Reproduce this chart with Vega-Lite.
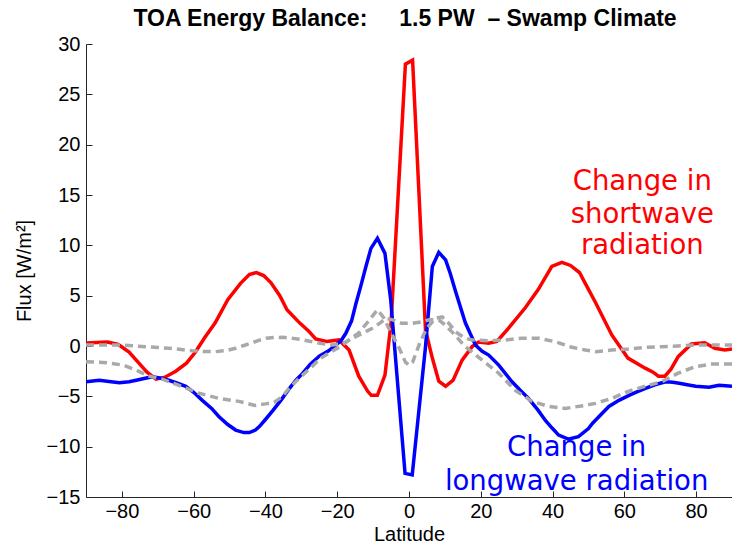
{
  "$schema": "https://vega.github.io/schema/vega-lite/v6.json",
  "width": 646,
  "height": 453,
  "autosize": "none",
  "padding": {"left": 86, "top": 44, "right": 0, "bottom": 50},
  "background": "white",
  "config": {
    "view": {"stroke": null},
    "font": "Liberation Sans",
    "axis": {
      "domainColor": "#262626",
      "tickColor": "#262626",
      "domainWidth": 1,
      "tickWidth": 1,
      "tickSize": -6,
      "grid": false,
      "labelColor": "black",
      "labelFont": "Liberation Sans",
      "labelFontSize": 20,
      "titleFont": "Liberation Sans",
      "titleFontSize": 20,
      "titleFontWeight": "normal",
      "titleColor": "black"
    }
  },
  "title": {
    "text": "TOA Energy Balance:\u00a0\u00a0\u00a0\u00a0 1.5 PW\u00a0 – Swamp Climate",
    "font": "Liberation Sans",
    "fontSize": 23,
    "fontWeight": "bold",
    "color": "black",
    "anchor": "middle",
    "frame": "group",
    "dx": -4,
    "offset": 3
  },
  "datasets": {
    "curves": [
      {"s": "SW", "lat": -90, "v": 0.3}, {"s": "SW", "lat": -87, "v": 0.35}, {"s": "SW", "lat": -84, "v": 0.4}, {"s": "SW", "lat": -81, "v": 0.15},
      {"s": "SW", "lat": -78, "v": -0.6}, {"s": "SW", "lat": -76, "v": -1.4}, {"s": "SW", "lat": -73, "v": -2.6}, {"s": "SW", "lat": -70.5, "v": -3.3},
      {"s": "SW", "lat": -68, "v": -3.1}, {"s": "SW", "lat": -65, "v": -2.5}, {"s": "SW", "lat": -62, "v": -1.7}, {"s": "SW", "lat": -59.5, "v": -0.6},
      {"s": "SW", "lat": -57, "v": 0.8}, {"s": "SW", "lat": -54, "v": 2.3}, {"s": "SW", "lat": -50.5, "v": 4.6}, {"s": "SW", "lat": -47, "v": 6.2},
      {"s": "SW", "lat": -44.5, "v": 7.1}, {"s": "SW", "lat": -42.5, "v": 7.3}, {"s": "SW", "lat": -40.5, "v": 7.0}, {"s": "SW", "lat": -38.5, "v": 6.3},
      {"s": "SW", "lat": -36, "v": 5.0}, {"s": "SW", "lat": -34, "v": 3.6}, {"s": "SW", "lat": -30.5, "v": 2.3}, {"s": "SW", "lat": -28, "v": 1.5},
      {"s": "SW", "lat": -26, "v": 0.7}, {"s": "SW", "lat": -23, "v": 0.45}, {"s": "SW", "lat": -19.5, "v": 0.6}, {"s": "SW", "lat": -16.7, "v": -0.4},
      {"s": "SW", "lat": -14, "v": -3.0}, {"s": "SW", "lat": -11.5, "v": -4.5}, {"s": "SW", "lat": -10.5, "v": -4.9}, {"s": "SW", "lat": -8.8, "v": -4.9},
      {"s": "SW", "lat": -6.7, "v": -2.9}, {"s": "SW", "lat": -5, "v": 2.3}, {"s": "SW", "lat": -1, "v": 28.0}, {"s": "SW", "lat": 1, "v": 28.4},
      {"s": "SW", "lat": 4.6, "v": 1.6}, {"s": "SW", "lat": 6.5, "v": -1.2}, {"s": "SW", "lat": 8.3, "v": -3.5}, {"s": "SW", "lat": 10.2, "v": -4.0},
      {"s": "SW", "lat": 12.3, "v": -3.4}, {"s": "SW", "lat": 14.8, "v": -1.4}, {"s": "SW", "lat": 17.6, "v": -0.06}, {"s": "SW", "lat": 19.4, "v": 0.4},
      {"s": "SW", "lat": 22.2, "v": 0.27}, {"s": "SW", "lat": 24.5, "v": 0.45}, {"s": "SW", "lat": 27.8, "v": 1.8}, {"s": "SW", "lat": 32.4, "v": 3.8},
      {"s": "SW", "lat": 36, "v": 5.6}, {"s": "SW", "lat": 39.8, "v": 7.9}, {"s": "SW", "lat": 42.6, "v": 8.3}, {"s": "SW", "lat": 45, "v": 8.0},
      {"s": "SW", "lat": 47.5, "v": 7.3}, {"s": "SW", "lat": 49, "v": 6.3}, {"s": "SW", "lat": 52, "v": 4.3}, {"s": "SW", "lat": 56.5, "v": 1.1},
      {"s": "SW", "lat": 61, "v": -1.2}, {"s": "SW", "lat": 65.8, "v": -2.2}, {"s": "SW", "lat": 68, "v": -2.6}, {"s": "SW", "lat": 69.5, "v": -3.0},
      {"s": "SW", "lat": 71.3, "v": -3.0}, {"s": "SW", "lat": 73, "v": -2.3}, {"s": "SW", "lat": 75, "v": -1.06}, {"s": "SW", "lat": 78.7, "v": 0.2},
      {"s": "SW", "lat": 82.4, "v": 0.33}, {"s": "SW", "lat": 85.2, "v": -0.23}, {"s": "SW", "lat": 88, "v": -0.4}, {"s": "SW", "lat": 90, "v": -0.3},

      {"s": "LW", "lat": -90, "v": -3.55}, {"s": "LW", "lat": -86.3, "v": -3.4}, {"s": "LW", "lat": -83, "v": -3.55}, {"s": "LW", "lat": -80.7, "v": -3.65},
      {"s": "LW", "lat": -78, "v": -3.55}, {"s": "LW", "lat": -76, "v": -3.4}, {"s": "LW", "lat": -73.5, "v": -3.2}, {"s": "LW", "lat": -71.5, "v": -3.05},
      {"s": "LW", "lat": -69, "v": -3.2}, {"s": "LW", "lat": -66.9, "v": -3.4}, {"s": "LW", "lat": -64.5, "v": -3.7}, {"s": "LW", "lat": -62.2, "v": -4.0},
      {"s": "LW", "lat": -60, "v": -4.6}, {"s": "LW", "lat": -57.6, "v": -5.4}, {"s": "LW", "lat": -55, "v": -6.2}, {"s": "LW", "lat": -53, "v": -7.0},
      {"s": "LW", "lat": -50.5, "v": -7.8}, {"s": "LW", "lat": -48.3, "v": -8.35}, {"s": "LW", "lat": -46, "v": -8.6}, {"s": "LW", "lat": -44.5, "v": -8.6},
      {"s": "LW", "lat": -42.8, "v": -8.35}, {"s": "LW", "lat": -41.7, "v": -8.0}, {"s": "LW", "lat": -40, "v": -7.3}, {"s": "LW", "lat": -37.9, "v": -6.4},
      {"s": "LW", "lat": -35.5, "v": -5.3}, {"s": "LW", "lat": -33.3, "v": -4.2}, {"s": "LW", "lat": -31.5, "v": -3.4}, {"s": "LW", "lat": -29.6, "v": -2.7},
      {"s": "LW", "lat": -27.5, "v": -1.8}, {"s": "LW", "lat": -25, "v": -1.0}, {"s": "LW", "lat": -22.5, "v": -0.5}, {"s": "LW", "lat": -20.4, "v": 0.1},
      {"s": "LW", "lat": -19, "v": 0.5}, {"s": "LW", "lat": -17.6, "v": 1.26}, {"s": "LW", "lat": -16, "v": 2.5}, {"s": "LW", "lat": -14.8, "v": 4.2},
      {"s": "LW", "lat": -13.4, "v": 6.0}, {"s": "LW", "lat": -12, "v": 7.9}, {"s": "LW", "lat": -10.6, "v": 9.7}, {"s": "LW", "lat": -8.8, "v": 10.7},
      {"s": "LW", "lat": -6.7, "v": 9.2}, {"s": "LW", "lat": -5.1, "v": 4.6}, {"s": "LW", "lat": -1.1, "v": -12.65}, {"s": "LW", "lat": 0.9, "v": -12.8},
      {"s": "LW", "lat": 4.6, "v": -0.07}, {"s": "LW", "lat": 6.5, "v": 7.9}, {"s": "LW", "lat": 8.3, "v": 9.3}, {"s": "LW", "lat": 10.2, "v": 8.55},
      {"s": "LW", "lat": 11.5, "v": 7.2}, {"s": "LW", "lat": 13, "v": 5.4}, {"s": "LW", "lat": 15.7, "v": 2.3}, {"s": "LW", "lat": 18.5, "v": 0.1},
      {"s": "LW", "lat": 20.3, "v": -0.5}, {"s": "LW", "lat": 22.2, "v": -0.9}, {"s": "LW", "lat": 25, "v": -1.9}, {"s": "LW", "lat": 28.7, "v": -3.55},
      {"s": "LW", "lat": 31, "v": -4.4}, {"s": "LW", "lat": 33.3, "v": -5.2}, {"s": "LW", "lat": 36, "v": -6.4}, {"s": "LW", "lat": 38, "v": -7.4},
      {"s": "LW", "lat": 40, "v": -8.2}, {"s": "LW", "lat": 41.7, "v": -8.85}, {"s": "LW", "lat": 44.4, "v": -9.25}, {"s": "LW", "lat": 47.2, "v": -9.0},
      {"s": "LW", "lat": 50, "v": -8.2}, {"s": "LW", "lat": 51.1, "v": -7.7}, {"s": "LW", "lat": 53.5, "v": -6.8}, {"s": "LW", "lat": 55.7, "v": -6.0},
      {"s": "LW", "lat": 58.5, "v": -5.4}, {"s": "LW", "lat": 61.3, "v": -4.9}, {"s": "LW", "lat": 63.5, "v": -4.55}, {"s": "LW", "lat": 65.9, "v": -4.2},
      {"s": "LW", "lat": 68.5, "v": -3.85}, {"s": "LW", "lat": 71.5, "v": -3.55}, {"s": "LW", "lat": 73.5, "v": -3.6}, {"s": "LW", "lat": 75.3, "v": -3.7},
      {"s": "LW", "lat": 77.5, "v": -3.85}, {"s": "LW", "lat": 79.9, "v": -4.0}, {"s": "LW", "lat": 83.6, "v": -4.1}, {"s": "LW", "lat": 86.4, "v": -3.9},
      {"s": "LW", "lat": 90, "v": -4.0}
    ],
    "grays": [
      {"s": "A", "lat": -90, "v": 0.1}, {"s": "A", "lat": -85, "v": 0.1}, {"s": "A", "lat": -80.7, "v": 0.1}, {"s": "A", "lat": -77, "v": 0.02},
      {"s": "A", "lat": -73.3, "v": -0.07}, {"s": "A", "lat": -70, "v": -0.15}, {"s": "A", "lat": -66.9, "v": -0.23}, {"s": "A", "lat": -63.5, "v": -0.35},
      {"s": "A", "lat": -60.4, "v": -0.47}, {"s": "A", "lat": -57, "v": -0.55}, {"s": "A", "lat": -53.9, "v": -0.56}, {"s": "A", "lat": -51, "v": -0.45},
      {"s": "A", "lat": -48.3, "v": -0.23}, {"s": "A", "lat": -46, "v": 0.05}, {"s": "A", "lat": -43.7, "v": 0.33}, {"s": "A", "lat": -41.5, "v": 0.6},
      {"s": "A", "lat": -39.8, "v": 0.77}, {"s": "A", "lat": -37.5, "v": 0.85}, {"s": "A", "lat": -35.2, "v": 0.86}, {"s": "A", "lat": -33, "v": 0.8},
      {"s": "A", "lat": -30.6, "v": 0.67}, {"s": "A", "lat": -28, "v": 0.5}, {"s": "A", "lat": -25.9, "v": 0.33}, {"s": "A", "lat": -23.5, "v": 0.2},
      {"s": "A", "lat": -21.3, "v": 0.1}, {"s": "A", "lat": -19, "v": 0.2}, {"s": "A", "lat": -17, "v": 0.5}, {"s": "A", "lat": -14, "v": 1.3},
      {"s": "A", "lat": -11, "v": 2.6}, {"s": "A", "lat": -8.8, "v": 3.6}, {"s": "A", "lat": -7, "v": 2.8}, {"s": "A", "lat": -5, "v": 1.3},
      {"s": "A", "lat": -3, "v": 0.0}, {"s": "A", "lat": -1, "v": -1.6}, {"s": "A", "lat": 0, "v": -1.9}, {"s": "A", "lat": 1, "v": -1.6},
      {"s": "A", "lat": 3, "v": 0.3}, {"s": "A", "lat": 5, "v": 1.8}, {"s": "A", "lat": 7.4, "v": 2.75}, {"s": "A", "lat": 9.2, "v": 2.9},
      {"s": "A", "lat": 11, "v": 2.3}, {"s": "A", "lat": 13, "v": 1.4}, {"s": "A", "lat": 15.5, "v": 0.8}, {"s": "A", "lat": 17.6, "v": 0.6},
      {"s": "A", "lat": 22.2, "v": 0.53}, {"s": "A", "lat": 26.8, "v": 0.6}, {"s": "A", "lat": 31.5, "v": 0.77}, {"s": "A", "lat": 36.1, "v": 0.77},
      {"s": "A", "lat": 40.7, "v": 0.43}, {"s": "A", "lat": 45.4, "v": -0.13}, {"s": "A", "lat": 49.1, "v": -0.4}, {"s": "A", "lat": 52, "v": -0.56},
      {"s": "A", "lat": 56.5, "v": -0.4}, {"s": "A", "lat": 61.1, "v": -0.3}, {"s": "A", "lat": 65.8, "v": -0.13}, {"s": "A", "lat": 70.4, "v": -0.07},
      {"s": "A", "lat": 75, "v": 0}, {"s": "A", "lat": 79.7, "v": 0.1}, {"s": "A", "lat": 84.3, "v": 0.1}, {"s": "A", "lat": 90, "v": 0.1},

      {"s": "B", "lat": -90, "v": -1.56}, {"s": "B", "lat": -84.2, "v": -1.66}, {"s": "B", "lat": -79.6, "v": -1.9}, {"s": "B", "lat": -76, "v": -2.4},
      {"s": "B", "lat": -72.4, "v": -3.0}, {"s": "B", "lat": -68.7, "v": -3.3}, {"s": "B", "lat": -64.1, "v": -3.9}, {"s": "B", "lat": -58.5, "v": -4.7},
      {"s": "B", "lat": -53, "v": -5.2}, {"s": "B", "lat": -47.4, "v": -5.5}, {"s": "B", "lat": -43, "v": -5.9}, {"s": "B", "lat": -40, "v": -5.75},
      {"s": "B", "lat": -37.6, "v": -5.6}, {"s": "B", "lat": -35.2, "v": -5.0}, {"s": "B", "lat": -33.9, "v": -4.4}, {"s": "B", "lat": -30.6, "v": -3.2},
      {"s": "B", "lat": -27.5, "v": -2.2}, {"s": "B", "lat": -24.6, "v": -1.2}, {"s": "B", "lat": -21.3, "v": -0.5}, {"s": "B", "lat": -18.5, "v": 0.1},
      {"s": "B", "lat": -16.7, "v": 0.6}, {"s": "B", "lat": -13, "v": 1.26}, {"s": "B", "lat": -10, "v": 1.8}, {"s": "B", "lat": -8, "v": 2.3},
      {"s": "B", "lat": -6.5, "v": 2.75}, {"s": "B", "lat": -4.5, "v": 2.6}, {"s": "B", "lat": -2, "v": 2.25}, {"s": "B", "lat": 1, "v": 2.25},
      {"s": "B", "lat": 3.5, "v": 2.4}, {"s": "B", "lat": 5.6, "v": 2.6}, {"s": "B", "lat": 8.3, "v": 2.6}, {"s": "B", "lat": 10, "v": 2.1},
      {"s": "B", "lat": 12, "v": 1.4}, {"s": "B", "lat": 14, "v": 0.6}, {"s": "B", "lat": 15.7, "v": -0.07}, {"s": "B", "lat": 20.4, "v": -1.4},
      {"s": "B", "lat": 25, "v": -2.7}, {"s": "B", "lat": 29.6, "v": -4.4}, {"s": "B", "lat": 34.3, "v": -5.5}, {"s": "B", "lat": 38.9, "v": -6.0},
      {"s": "B", "lat": 43.5, "v": -6.2}, {"s": "B", "lat": 49.1, "v": -5.9}, {"s": "B", "lat": 52, "v": -5.7}, {"s": "B", "lat": 56.5, "v": -5.2},
      {"s": "B", "lat": 61.1, "v": -4.5}, {"s": "B", "lat": 65.8, "v": -4.0}, {"s": "B", "lat": 70.4, "v": -3.55}, {"s": "B", "lat": 75, "v": -2.7},
      {"s": "B", "lat": 79.7, "v": -2.06}, {"s": "B", "lat": 84.3, "v": -1.8}, {"s": "B", "lat": 90, "v": -1.8}
    ],
    "labels": [
      {"s": "SW", "lat": 65, "v": 16.3, "t": "Change in"},
      {"s": "SW", "lat": 65, "v": 13.0, "t": "shortwave"},
      {"s": "SW", "lat": 65, "v": 9.9, "t": "radiation"},
      {"s": "LW", "lat": 46.7, "v": -10.1, "t": "Change in"},
      {"s": "LW", "lat": 46.7, "v": -13.5, "t": "longwave radiation"}
    ]
  },
  "layer": [
    {
      "mark": {"type": "rule", "color": "black", "strokeWidth": 1, "strokeDash": [1, 3]},
      "encoding": {"y": {"datum": 0, "type": "quantitative"}}
    },
    {
      "data": {"name": "curves"},
      "mark": {"type": "line", "strokeWidth": 3.5, "clip": true},
      "encoding": {
        "x": {
          "field": "lat", "type": "quantitative",
          "scale": {"domain": [-90, 90], "nice": false, "zero": false},
          "axis": {"values": [-80, -60, -40, -20, 0, 20, 40, 60, 80], "title": "Latitude", "labelPadding": 10, "titlePadding": 3, "labelFontSize": 20, "titleFontSize": 20}
        },
        "y": {
          "field": "v", "type": "quantitative",
          "scale": {"domain": [-15, 30], "nice": false, "zero": false},
          "axis": {"values": [-15, -10, -5, 0, 5, 10, 15, 20, 25, 30], "title": "Flux [W/m²]", "labelPadding": 12, "titlePadding": 12, "labelFontSize": 20, "titleFontSize": 20}
        },
        "detail": {"field": "s"},
        "color": {"field": "s", "type": "nominal", "scale": {"domain": ["SW", "LW"], "range": ["#ff0000", "#0000ff"]}, "legend": null}
      }
    },
    {
      "data": {"name": "grays"},
      "mark": {"type": "line", "strokeWidth": 3.5, "color": "#a9a9a9", "strokeDash": [8, 5], "clip": true},
      "encoding": {
        "x": {"field": "lat", "type": "quantitative"},
        "y": {"field": "v", "type": "quantitative"},
        "detail": {"field": "s"}
      }
    },
    {
      "data": {"name": "labels"},
      "mark": {"type": "text", "font": "DejaVu Sans", "fontSize": 27.5, "align": "center", "baseline": "middle"},
      "encoding": {
        "x": {"field": "lat", "type": "quantitative"},
        "y": {"field": "v", "type": "quantitative"},
        "text": {"field": "t"},
        "color": {"field": "s", "type": "nominal", "scale": {"domain": ["SW", "LW"], "range": ["#ff0000", "#0000ff"]}, "legend": null}
      }
    }
  ]
}
